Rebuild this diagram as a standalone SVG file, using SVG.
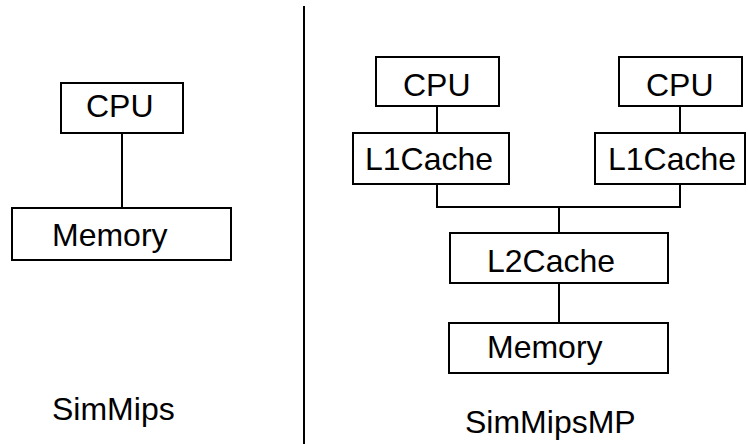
<svg xmlns="http://www.w3.org/2000/svg" width="748" height="444" viewBox="0 0 748 444">
<style>
.box{fill:#fff;stroke:#000;stroke-width:2}
.ln{fill:none;stroke:#000;stroke-width:2}
text{font-family:"Liberation Sans",Arial,sans-serif;font-size:32px;fill:#000}
</style>
<rect width="748" height="444" fill="#fff"/>
<g id="connectors">
<line class="ln" x1="122" y1="133" x2="122" y2="208"/>
<line class="ln" x1="304" y1="6" x2="304" y2="444"/>
<line class="ln" x1="437" y1="106" x2="437" y2="133"/>
<line class="ln" x1="680" y1="106" x2="680" y2="133"/>
<polyline class="ln" points="437,184 437,207 680,207 680,184"/>
<line class="ln" x1="559" y1="207" x2="559" y2="233"/>
<line class="ln" x1="559" y1="283" x2="559" y2="323"/>
</g>
<g id="cpu-left"><rect class="box" x="61" y="83" width="122" height="50"/><text x="86" y="117">CPU</text></g>
<g id="memory-left"><rect class="box" x="12" y="208" width="219" height="52"/><text x="52" y="246">Memory</text></g>
<g id="label-simmips"><text x="52" y="420">SimMips</text></g>
<g id="cpu1"><rect class="box" x="376" y="57" width="123" height="49"/><text x="403" y="96">CPU</text></g>
<g id="cpu2"><rect class="box" x="619" y="57" width="123" height="49"/><text x="646" y="96">CPU</text></g>
<g id="l1cache1"><rect class="box" x="353" y="133" width="156" height="51"/><text x="365" y="170">L1Cache</text></g>
<g id="l1cache2"><rect class="box" x="595" y="133" width="150" height="51"/><text x="608" y="170">L1Cache</text></g>
<g id="l2cache"><rect class="box" x="450" y="233" width="218" height="50"/><text x="487" y="272">L2Cache</text></g>
<g id="memory-right"><rect class="box" x="449" y="323" width="219" height="50"/><text x="487" y="358">Memory</text></g>
<g id="label-simmipsmp"><text x="465" y="433">SimMipsMP</text></g>
</svg>
